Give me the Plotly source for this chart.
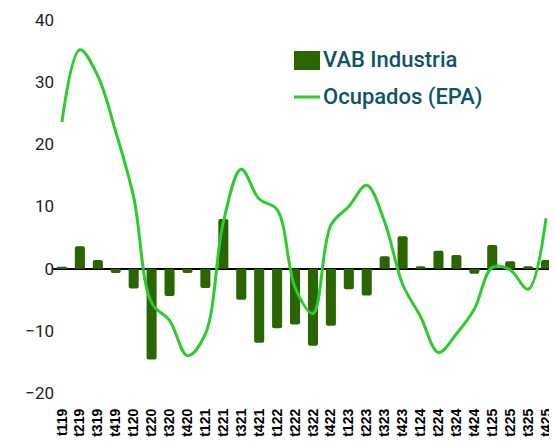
import plotly.graph_objects as go

quarters = ["t119","t219","t319","t419","t120","t220","t320","t420","t121","t221","t321","t421",
            "t122","t222","t322","t422","t123","t223","t323","t423","t124","t224","t324","t424",
            "t125","t225","t325","t425"]
vab_industria = [0.3, 3.6, 1.4, -0.7, -3.2, -14.6, -4.4, -0.7, -3.1, 8.0, -5.0, -11.9,
                 -9.6, -9.0, -12.4, -9.2, -3.3, -4.3, 2.0, 5.2, 0.4, 2.9, 2.2, -0.8,
                 3.8, 1.2, 0.4, 1.4]
ocupados_epa = [23.6, 35.2, 31.0, 22.0, 11.5, -5.5, -8.3, -14.0, -10.5, 7.5, 16.0, 11.2,
                9.5, -3.0, -7.2, 7.0, 10.0, 13.4, 7.5, -2.5, -7.7, -13.5, -10.5, -6.5,
                0.2, -0.2, -3.3, 8.1]
y_ticks = [-20, -10, 0, 10, 20, 30, 40]
series_names = ["VAB Industria", "Ocupados (EPA)"]

BAR_COLOR = "#2a6500"
LINE_COLOR = "#2ccc2c"
LEGEND_COLOR = "#0e5468"

OFF = 8  # page body margin
W, H = 557 - OFF, 445 - OFF
ML, MR, MT, MB = 53 - OFF, 2, 20 - OFF, 52
PW, PH = W - ML - MR, H - MT - MB

def px(x):  # window pixel -> paper
    return (x - OFF - ML) / PW

def py(y):
    return (H - MB - (y - OFF)) / PH

fig = go.Figure()
fig.add_trace(go.Bar(
    x=quarters, y=vab_industria, name=series_names[0],
    marker=dict(color=BAR_COLOR, cornerradius=2, line=dict(width=0)),
))
fig.add_trace(go.Scatter(
    x=quarters, y=ocupados_epa, name=series_names[1], mode="lines",
    line=dict(color=LINE_COLOR, width=3, shape="spline", smoothing=1),
))

# custom legend (wide swatches as in the reference)
fig.add_shape(type="rect", xref="paper", yref="paper",
              x0=px(294), x1=px(320), y0=py(70), y1=py(51),
              fillcolor=BAR_COLOR, line=dict(width=0))
fig.add_shape(type="line", xref="paper", yref="paper",
              x0=px(294), x1=px(320), y0=py(97), y1=py(97),
              line=dict(color=LINE_COLOR, width=3))
for name, yy in zip(series_names, [60, 97]):
    fig.add_annotation(text=name, xref="paper", yref="paper", x=px(321), y=py(yy),
                       xanchor="left", yanchor="middle", showarrow=False,
                       font=dict(family="Roboto", size=22, color=LEGEND_COLOR, weight=500))

fig.update_layout(
    width=W, height=H,
    margin=dict(l=ML, r=MR, t=MT, b=MB, autoexpand=False),
    paper_bgcolor="white", plot_bgcolor="white",
    bargap=0.44,
    showlegend=False,
    xaxis=dict(
        type="category", range=[-0.5, 27.5], automargin=False,
        tickangle=-90, showgrid=False, showline=False, zeroline=False,
        tickfont=dict(family="Liberation Sans", size=14, color="black", weight="bold"),
        ticklabelstandoff=12,
    ),
    yaxis=dict(
        range=[-20, 40], tickvals=y_ticks, showgrid=False, showline=False, automargin=False,
        zeroline=True, zerolinecolor="black", zerolinewidth=1.5,
        tickfont=dict(family="Roboto", size=17, color="#222222"),
        ticklabelstandoff=-2,
    ),
)

fig.write_html("out.html")
